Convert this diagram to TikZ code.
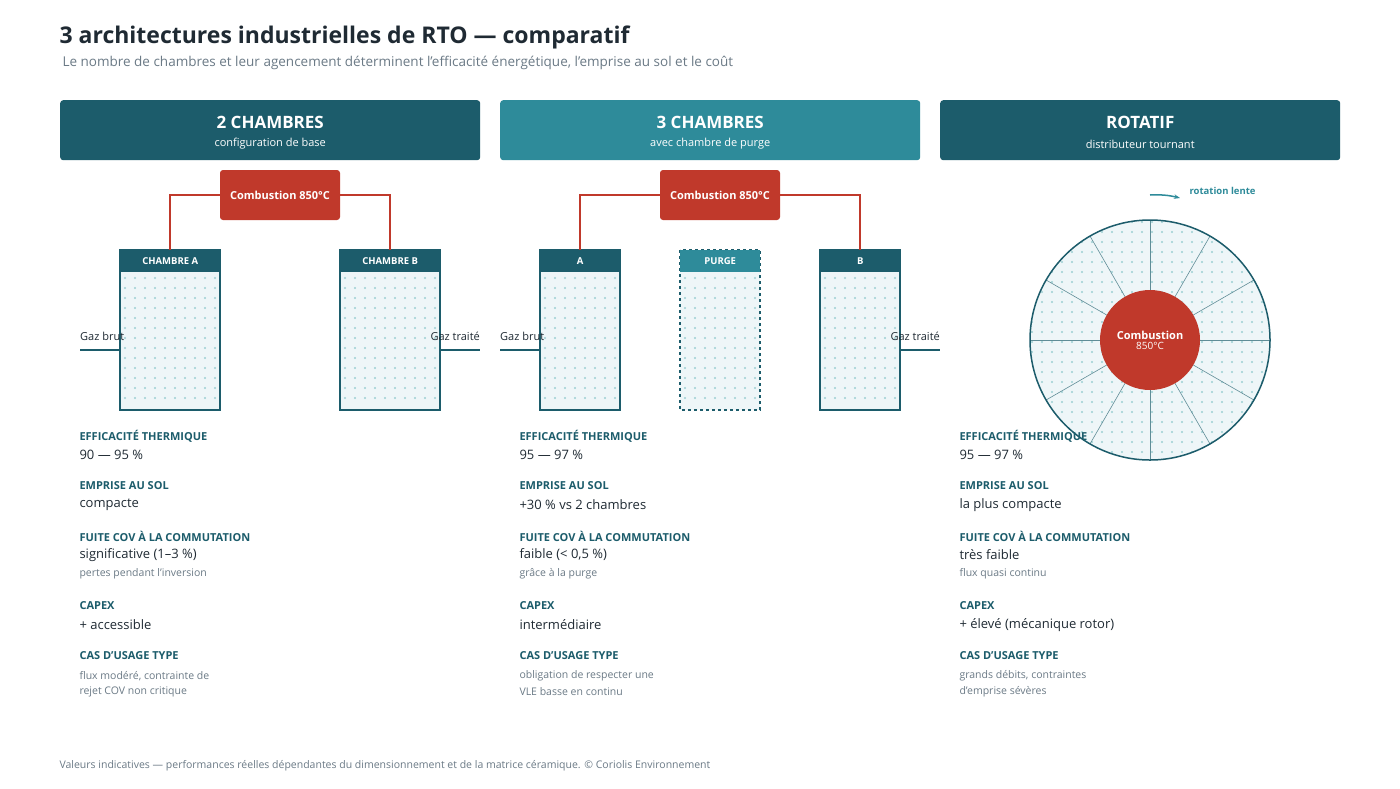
\documentclass[tikz,border=0pt]{standalone}
\usepackage{fontspec}
\setmainfont{Open Sans}
\usetikzlibrary{positioning,arrows.meta,calc}
\definecolor{dteal}{HTML}{1C5C6B}
\definecolor{lteal}{HTML}{2E8B9A}
\definecolor{rto}{HTML}{C0392B}
\definecolor{ink}{HTML}{1F2A33}
\definecolor{grey}{HTML}{6B7A86}
\definecolor{bed}{HTML}{EEF6F8}
\definecolor{dot}{HTML}{9CCFD2}
\newcommand\fs[1]{\fontsize{#1}{#1}\selectfont}
\tikzset{
  hdr/.style={rounded corners=3, minimum height=60, anchor=north west, inner sep=0},
  burner/.style={fill=rto, rounded corners=3, minimum width=120, minimum height=50, text=white, font=\fs{11}\bfseries},
  pipe/.style={rto, line width=1.5},
  gas/.style={dteal, line width=1.5},
  lbl/.style={anchor=west, text=dteal, font=\fs{11}\bfseries},
  val/.style={anchor=west, text=ink, font=\fs{13}},
  note/.style={anchor=west, text=grey, font=\fs{10.5}},
}
% chamber: name, left x, right x, title, header colour, dashed?
\newcommand\chamber[6]{%
  \pgfmathtruncatemacro\cfirst{#2+5}%
  \pgfmathtruncatemacro\csecond{#2+15}%
  \pgfmathtruncatemacro\cwidth{#3-#2}%
  \fill[bed] (#2,250) rectangle (#3,410);
  \foreach \yy in {278,288,...,406}
    \foreach \xx in {\cfirst,\csecond,...,#3}
      \fill[dot] (\xx,\yy) circle (1.2);
  \draw[dteal, line width=1.2, #6] (#2,250) rectangle (#3,410);
  \node[fill=#5, minimum width=\cwidth pt, minimum height=22, inner sep=0, anchor=north west,
        text=white, font=\fs{9.5}\bfseries] (#1) at (#2,250) {#4};}
\begin{document}
\begin{tikzpicture}[x=1pt, y=-1pt]
  \useasboundingbox[fill=white] (0,0) rectangle (1400,788);
  % titles
  \node[anchor=west, text=ink, font=\fs{23}\bfseries] (title) at (56,37) {3 architectures industrielles de RTO — comparatif};
  \node[anchor=west, text=grey, font=\fs{13.5}] (sub) at (59,63) {Le nombre de chambres et leur agencement déterminent l'efficacité énergétique, l'emprise au sol et le coût};

  % column headers
  \node[hdr, fill=dteal, minimum width=420] (h1) at (60,100) {};
  \node[hdr, fill=lteal, minimum width=420] (h2) at (500,100) {};
  \node[hdr, fill=dteal, minimum width=400] (h3) at (940,100) {};
  \foreach \n/\t/\s in {h1/2 CHAMBRES/configuration de base, h2/3 CHAMBRES/avec chambre de purge, h3/ROTATIF/distributeur tournant}{
    \node[text=white, font=\fs{17}\bfseries] at ([yshift=-22]\n.north) {\t};
    \node[text=white, font=\fs{11}] at ([yshift=-44]\n.north) {\s};
  }

  % 2 chambres
  \chamber{ca}{120}{220}{CHAMBRE A}{dteal}{}
  \chamber{cb}{340}{440}{CHAMBRE B}{dteal}{}
  \node[burner] (comb1) at (280,195) {Combustion 850°C};
  \draw[pipe] (comb1.west) -| (ca.north);
  \draw[pipe] (comb1.east) -| (cb.north);
  \coordinate (in1) at (80,350);
  \coordinate (out1) at (480,350);
  \draw[gas] (in1) -- (120,350);
  \draw[gas] (440,350) -- (out1);
  \node[anchor=south west, inner sep=0, text=ink, font=\fs{11}] (gb1) at (80,341) {Gaz brut};
  \node[anchor=south east, inner sep=0, text=ink, font=\fs{11}] (gt1) at (480,341) {Gaz traité};

  % 3 chambres
  \chamber{c3a}{540}{620}{A}{dteal}{}
  \chamber{c3p}{680}{760}{PURGE}{lteal}{dashed}
  \chamber{c3b}{820}{900}{B}{dteal}{}
  \node[burner] (comb2) at (720,195) {Combustion 850°C};
  \draw[pipe] (comb2.west) -| (c3a.north);
  \draw[pipe] (comb2.east) -| (c3b.north);
  \coordinate (in2) at (500,350);
  \coordinate (out2) at (940,350);
  \draw[gas] (in2) -- (540,350);
  \draw[gas] (900,350) -- (out2);
  \node[anchor=south west, inner sep=0, text=ink, font=\fs{11}] (gb2) at (500,341) {Gaz brut};
  \node[anchor=south east, inner sep=0, text=ink, font=\fs{11}] (gt2) at (940,341) {Gaz traité};

  % rotatif
  \coordinate (rc) at (1150,340);
  \begin{scope}
    \clip (rc) circle (120);
    \fill[bed] (rc) circle (120);
    \foreach \yy in {222,232,...,462}
      \foreach \xx in {1032,1042,...,1272}
        \fill[dot] (\xx,\yy) circle (1.2);
  \end{scope}
  \foreach \a in {0,30,...,330}
    \draw[dteal!70, line width=0.6] ($(rc)+(\a:50)$) -- ($(rc)+(\a:120)$);
  \draw[dteal, line width=1.5] (rc) circle (120);
  \node[circle, fill=rto, minimum size=100, text=white, align=center, font=\fs{11}\bfseries] (comb3) at (rc)
    {Combustion\\[-1pt]{\fs{10}\mdseries 850°C}};
  \coordinate (r0) at (1150,195);
  \draw[-{Stealth[length=6pt]}, lteal, line width=1.5] (r0) to[bend left=8] ++(30,3);
  \node[anchor=west, text=lteal, font=\fs{9.5}\bfseries] (rot) at (1186,191) {rotation lente};

  % fiches
  \foreach \x/\va/\vb/\vc/\nc/\vd/\ne/\nf in {
      80/{90 — 95 \%}/compacte/{significative (1–3 \%)}/{pertes pendant l'inversion}/{+ accessible}/{flux modéré, contrainte de}/{rejet COV non critique},
      520/{95 — 97 \%}/{+30 \% vs 2 chambres}/{faible (< 0,5 \%)}/{grâce à la purge}/intermédiaire/{obligation de respecter une}/{VLE basse en continu},
      960/{95 — 97 \%}/{la plus compacte}/{très faible}/{flux quasi continu}/{+ élevé (mécanique rotor)}/{grands débits, contraintes}/{d'emprise sévères}}{
    \node[lbl] at (\x-4,436) {EFFICACITÉ THERMIQUE};
    \node[val] at (\x-4,455) {\va};
    \node[lbl] at (\x-4,486) {EMPRISE AU SOL};
    \node[val] at (\x-4,505) {\vb};
    \node[lbl] at (\x-4,536) {FUITE COV À LA COMMUTATION};
    \node[val] at (\x-4,555) {\vc};
    \node[note] at (\x-4,574) {\nc};
    \node[lbl] at (\x-4,606) {CAPEX};
    \node[val] at (\x-4,625) {\vd};
    \node[lbl] at (\x-4,656) {CAS D'USAGE TYPE};
    \node[note] at (\x-4,676) {\ne};
    \node[note] at (\x-4,692) {\nf};
  }

  \node[anchor=west, text=grey, font=\fs{10.5}] (foot) at (56,766) {Valeurs indicatives — performances réelles dépendantes du dimensionnement et de la matrice céramique. © Coriolis Environnement};
\end{tikzpicture}
\end{document}
